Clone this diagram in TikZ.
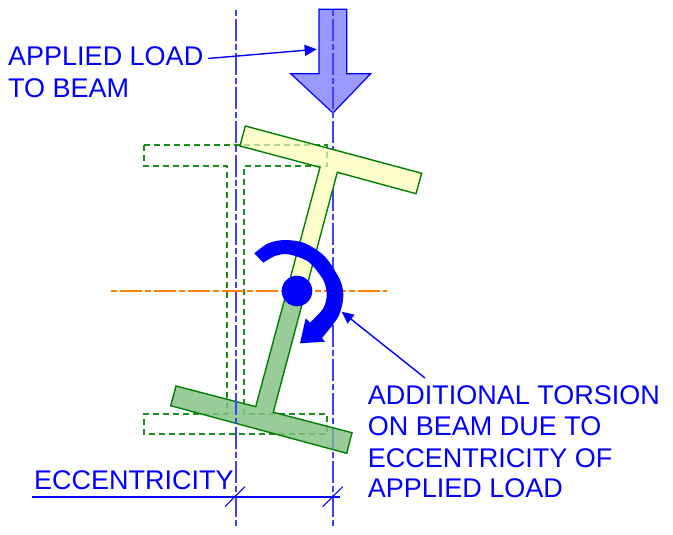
\documentclass[tikz,border=0pt]{standalone}
\usepackage{fontspec}
\setmainfont{Liberation Sans}
\usetikzlibrary{arrows.meta}
\definecolor{cblue}{RGB}{0,0,255}
\definecolor{clblue}{RGB}{64,64,255}
\definecolor{arrfill}{RGB}{153,153,255}
\definecolor{byellow}{RGB}{255,255,204}
\definecolor{bgreen}{RGB}{153,204,153}
\definecolor{bline}{RGB}{0,128,0}
\definecolor{corange}{RGB}{255,128,0}
\tikzset{
  lbl/.style={font=\fontsize{27}{31}\selectfont, text=cblue, inner sep=0pt, anchor=base west},
  centerln/.style={clblue, line width=1.8pt, dash pattern=on 6pt off 3pt on 22pt off 3pt},
  orangeln/.style={corange, line width=1.5pt, dash pattern=on 6pt off 3pt on 22pt off 3pt},
  hidden/.style={bline!90!white, line width=2pt, dash pattern=on 6pt off 4pt},
  leader/.style={cblue, line width=1.4pt, -{Triangle[length=12pt,width=11pt]}},
  dimln/.style={cblue, line width=1.2pt},
  beam/.style={bline, line width=1.4pt, line join=miter},
}
\newcommand{\oldsection}{(144,145) -- (327,145) -- (327,166) -- (244,166) -- (244,414) -- (327,414) -- (327,434) -- (144,434) -- (144,414) -- (227,414) -- (227,166) -- (144,166) -- cycle}
\newcommand{\upperpart}{(245.3,126) -- (421.7,173.3) -- (416,193.7) -- (337.3,172.3) -- (305.6,291) -- (286.8,291) -- (320,167.3) -- (240,146) -- cycle}
\newcommand{\lowerpart}{(286.8,291) -- (255.7,406.7) -- (176,386) -- (170.7,405.7) -- (346.7,453.3) -- (352,432.7) -- (273.3,412.3) -- (305.6,291) -- cycle}
\begin{document}
\begin{tikzpicture}[x=1pt,y=-1pt]
\useasboundingbox (0,0) rectangle (673,535);
% centre lines and old section
\coordinate (c1t) at (236,10); \coordinate (c1b) at (236,528);
\coordinate (c2t) at (333,10); \coordinate (c2b) at (333,528);
\coordinate (olft) at (111,291); \coordinate (orgt) at (387,291);
% load arrow
\filldraw[draw=cblue, fill=arrfill, line width=1.2pt, line join=miter]
  (319,9.3) -- (346.7,9.3) -- (346.7,73.7) -- (370.7,73.7) -- (333,113) -- (290.7,73.7) -- (319,73.7) -- cycle;
\draw[centerln] (c2t) -- (c2b);
\draw[hidden] \oldsection;
% rotated beam
\fill[byellow] \upperpart;
\fill[bgreen] \lowerpart;
\begin{scope}
  \clip \upperpart;
  \draw[hidden, color=bline!30!byellow] \oldsection;
\end{scope}
\begin{scope}
  \clip \lowerpart;
  \draw[hidden, color=bline!25!bgreen] \oldsection;
  \draw[centerln, color=clblue!35!bgreen] (c2t) -- (c2b);
\end{scope}
\draw[beam] (286.8,291) -- (320,167.3) -- (240,146) -- (245.3,126) -- (421.7,173.3) -- (416,193.7) -- (337.3,172.3) -- (305.6,291)
  -- (273.3,412.3) -- (352,432.7) -- (346.7,453.3) -- (170.7,405.7) -- (176,386) -- (255.7,406.7) -- cycle;
\draw[centerln] (c1t) -- (c1b);
\draw[orangeln] (olft) -- (orgt);
% torsion symbol
\fill[cblue] (297,291) circle (15.3);
\fill[cblue] plot[smooth] coordinates {(254.3,253.3) (268.3,243.3) (285,240) (305,243.3) (325,256.7) (340,280) (343.3,296.7) (338.3,316.7) (322,338)}
  -- (325,341.7) -- (300,343.3) -- (305.7,318.3) -- (310,322.7)
  -- plot[smooth] coordinates {(310,322.7) (323.3,308.3) (326.7,295) (323.3,280) (308.3,261.7) (288.3,254.3) (275,256) (263.3,262.7)} -- cycle;
% labels
\node[lbl] (load1) at (8,65.7) {APPLIED LOAD};
\node[lbl] (load2) at (8,97.7) {TO BEAM};
\node[lbl] (ecc) at (34,489) {ECCENTRICITY};
\node[lbl] (tor1) at (367.7,404) {ADDITIONAL TORSION};
\node[lbl] (tor2) at (367.7,435.7) {ON BEAM DUE TO};
\node[lbl] (tor3) at (367.7,467) {ECCENTRICITY OF};
\node[lbl] (tor4) at (367.7,497.7) {APPLIED LOAD};
% leaders
\coordinate (ls) at (208,58.5); \coordinate (lt) at (316.7,49.3);
\coordinate (ts) at (425,378); \coordinate (tt) at (341.7,311.7);
\draw[leader] (ls) -- (lt);
\draw[leader] (ts) -- (tt);
% dimension
\coordinate (ds) at (32,497); \coordinate (de) at (340,497);
\draw[dimln] (ds) -- (de);
\coordinate (t1a) at (225,506.7); \coordinate (t1b) at (245,486.7);
\coordinate (t2a) at (322.7,506.7); \coordinate (t2b) at (342.7,486.7);
\draw[dimln, line width=1pt] (t1a) -- (t1b);
\draw[dimln, line width=1pt] (t2a) -- (t2b);
\end{tikzpicture}
\end{document}
